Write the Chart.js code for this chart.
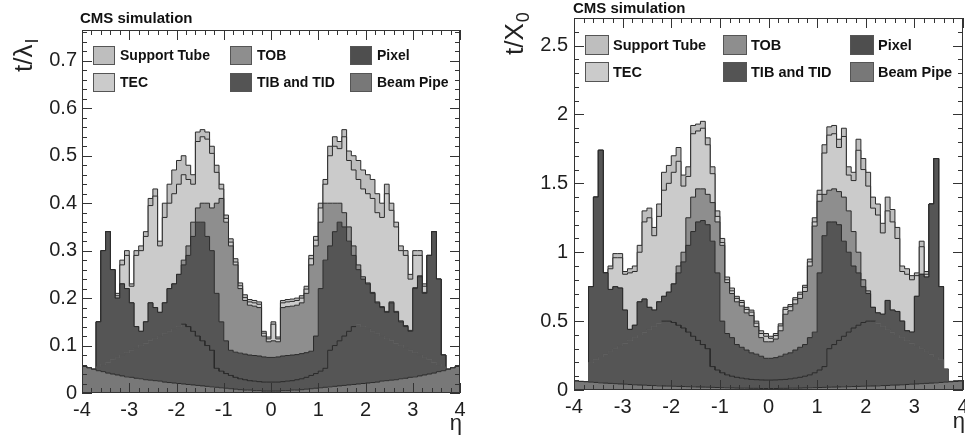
<!DOCTYPE html>
<html>
<head>
<meta charset="utf-8">
<script src="https://cdn.jsdelivr.net/npm/chart.js@4.4.1/dist/chart.umd.min.js"></script>
<style>
  html, body { margin: 0; padding: 0; background: #fff; }
  #wrap { position: relative; width: 965px; height: 442px; overflow: hidden; }
  .panel { position: absolute; top: 0; height: 442px; }
  #left { left: 0; width: 482px; }
  #right { left: 482px; width: 483px; }
</style>
</head>
<body>
<div id="wrap">
  <div class="panel" id="left"><canvas id="lambdaChart"></canvas></div>
  <div class="panel" id="right"><canvas id="x0Chart"></canvas></div>
</div>
<script>
// eta bins: 80 bins of 0.1 from -4 to 4
const etaLow = -4;
const binWidth = 0.1;

// upper edge of each layer of the stack (cumulative), t/lambda_I
const lamBeamPipe = [
  0.056,0.053,0.050,0.047,0.045,0.042,0.040,0.038,0.036,0.034,
  0.033,0.031,0.030,0.028,0.027,0.026,0.025,0.023,0.022,0.021,
  0.020,0.019,0.018,0.017,0.016,0.015,0.014,0.013,0.012,0.011,
  0.010,0.009,0.008,0.007,0.006,0.006,0.005,0.005,0.004,0.004,
  0.004,0.004,0.005,0.005,0.006,0.006,0.007,0.008,0.009,0.010,
  0.011,0.012,0.013,0.014,0.015,0.016,0.017,0.018,0.019,0.020,
  0.021,0.022,0.023,0.025,0.026,0.027,0.028,0.030,0.031,0.033,
  0.034,0.036,0.038,0.040,0.042,0.045,0.047,0.050,0.053,0.056];
const lamPixel = [
  0.056,0.053,0.050,0.055,0.060,0.065,0.070,0.075,0.080,0.085,
  0.090,0.095,0.100,0.105,0.110,0.115,0.120,0.125,0.130,0.135,
  0.140,0.145,0.140,0.130,0.120,0.110,0.100,0.090,0.052,0.046,
  0.041,0.037,0.033,0.030,0.028,0.026,0.025,0.024,0.023,0.023,
  0.023,0.023,0.024,0.025,0.026,0.028,0.030,0.033,0.037,0.041,
  0.046,0.052,0.090,0.100,0.110,0.120,0.130,0.140,0.145,0.140,
  0.135,0.130,0.125,0.120,0.115,0.110,0.105,0.100,0.095,0.090,
  0.085,0.080,0.075,0.070,0.065,0.060,0.055,0.050,0.053,0.056];
const lamTIB = [
  0.056,0.053,0.050,0.15,0.30,0.34,0.26,0.20,0.23,0.22,
  0.19,0.14,0.13,0.15,0.19,0.18,0.17,0.19,0.22,0.23,
  0.25,0.27,0.29,0.33,0.36,0.36,0.33,0.30,0.21,0.15,
  0.11,0.09,0.086,0.084,0.082,0.080,0.079,0.078,0.076,0.075,
  0.075,0.076,0.078,0.079,0.080,0.081,0.083,0.085,0.088,0.12,
  0.22,0.28,0.31,0.34,0.36,0.35,0.32,0.29,0.26,0.24,
  0.23,0.21,0.19,0.18,0.17,0.19,0.17,0.15,0.14,0.13,
  0.22,0.245,0.21,0.29,0.34,0.24,0.08,0.050,0.053,0.056];
const lamTOB = [
  0.056,0.053,0.050,0.15,0.30,0.34,0.26,0.20,0.23,0.22,
  0.19,0.14,0.13,0.15,0.19,0.18,0.17,0.19,0.22,0.23,
  0.25,0.28,0.31,0.36,0.39,0.40,0.40,0.39,0.40,0.41,
  0.36,0.31,0.27,0.22,0.195,0.185,0.183,0.18,0.12,0.108,
  0.11,0.108,0.18,0.182,0.183,0.185,0.19,0.21,0.27,0.31,
  0.36,0.40,0.40,0.40,0.40,0.38,0.35,0.31,0.27,0.245,
  0.232,0.212,0.192,0.182,0.172,0.192,0.172,0.152,0.142,0.132,
  0.222,0.247,0.212,0.29,0.34,0.24,0.08,0.050,0.053,0.056];
const lamTEC = [
  0.056,0.053,0.050,0.15,0.30,0.34,0.26,0.205,0.27,0.29,
  0.225,0.29,0.30,0.33,0.395,0.415,0.31,0.37,0.40,0.42,
  0.44,0.46,0.45,0.44,0.53,0.54,0.535,0.505,0.465,0.43,
  0.368,0.318,0.276,0.226,0.201,0.192,0.19,0.187,0.126,0.114,
  0.145,0.114,0.19,0.192,0.193,0.195,0.20,0.219,0.283,0.322,
  0.39,0.44,0.50,0.52,0.515,0.54,0.49,0.47,0.45,0.43,
  0.42,0.41,0.38,0.37,0.42,0.385,0.35,0.30,0.29,0.24,
  0.29,0.29,0.225,0.29,0.34,0.24,0.08,0.050,0.053,0.056];
const lamSupportTube = [
  0.056,0.053,0.050,0.15,0.30,0.34,0.26,0.21,0.28,0.30,
  0.23,0.30,0.31,0.34,0.41,0.43,0.32,0.40,0.44,0.47,
  0.49,0.50,0.48,0.46,0.55,0.555,0.55,0.52,0.48,0.44,
  0.375,0.325,0.283,0.232,0.207,0.197,0.195,0.192,0.13,0.118,
  0.15,0.118,0.195,0.197,0.198,0.20,0.205,0.225,0.29,0.33,
  0.40,0.45,0.52,0.54,0.53,0.555,0.51,0.50,0.49,0.47,
  0.46,0.45,0.42,0.40,0.44,0.40,0.36,0.31,0.30,0.25,
  0.30,0.30,0.23,0.29,0.34,0.24,0.08,0.050,0.053,0.056];

// upper edge of each layer of the stack (cumulative), t/X0
const radBeamPipe = [
  0.065,0.062,0.060,0.057,0.055,0.052,0.050,0.048,0.046,0.044,
  0.042,0.040,0.038,0.036,0.035,0.033,0.032,0.030,0.029,0.028,
  0.027,0.026,0.025,0.024,0.023,0.022,0.021,0.020,0.019,0.018,
  0.017,0.016,0.015,0.014,0.013,0.013,0.012,0.012,0.011,0.011,
  0.011,0.011,0.012,0.012,0.013,0.013,0.014,0.015,0.016,0.017,
  0.018,0.019,0.020,0.021,0.022,0.023,0.024,0.025,0.026,0.027,
  0.028,0.029,0.030,0.032,0.033,0.035,0.036,0.038,0.040,0.042,
  0.044,0.046,0.048,0.050,0.052,0.055,0.057,0.060,0.062,0.065];
const radPixel = [
  0.065,0.062,0.060,0.20,0.22,0.24,0.26,0.28,0.30,0.32,
  0.34,0.36,0.38,0.40,0.42,0.44,0.46,0.48,0.50,0.50,
  0.49,0.47,0.45,0.42,0.39,0.36,0.33,0.30,0.17,0.145,
  0.125,0.11,0.10,0.092,0.086,0.081,0.077,0.075,0.073,0.072,
  0.072,0.073,0.075,0.077,0.081,0.086,0.092,0.10,0.11,0.125,
  0.145,0.17,0.30,0.33,0.36,0.39,0.42,0.45,0.47,0.49,
  0.50,0.50,0.48,0.46,0.44,0.42,0.40,0.38,0.36,0.34,
  0.32,0.30,0.28,0.26,0.24,0.22,0.15,0.062,0.064,0.066];
const radTIB = [
  0.065,0.062,0.060,0.75,1.40,1.74,0.85,0.73,0.75,0.74,
  0.58,0.44,0.47,0.64,0.66,0.60,0.58,0.64,0.68,0.71,
  0.77,0.85,0.93,1.05,1.15,1.22,1.23,1.20,1.08,0.85,
  0.50,0.41,0.38,0.33,0.31,0.29,0.27,0.26,0.245,0.23,
  0.23,0.235,0.245,0.26,0.27,0.29,0.31,0.33,0.38,0.42,
  0.85,1.12,1.22,1.22,1.20,1.08,1.00,0.90,0.85,0.75,
  0.70,0.60,0.56,0.55,0.65,0.58,0.57,0.50,0.43,0.42,
  0.68,0.84,0.82,1.35,1.68,0.75,0.15,0.062,0.064,0.066];
const radTOB = [
  0.065,0.062,0.060,0.75,1.40,1.74,0.85,0.73,0.75,0.74,
  0.58,0.44,0.47,0.64,0.66,0.60,0.58,0.64,0.68,0.71,
  0.77,0.90,1.00,1.25,1.40,1.46,1.46,1.42,1.36,1.22,
  1.05,0.78,0.70,0.64,0.61,0.56,0.54,0.46,0.38,0.35,
  0.35,0.37,0.43,0.55,0.575,0.625,0.665,0.715,0.90,1.19,
  1.37,1.42,1.45,1.46,1.44,1.40,1.30,1.15,1.00,0.80,
  0.72,0.60,0.56,0.55,0.65,0.58,0.57,0.50,0.43,0.42,
  0.68,0.84,0.82,1.35,1.68,0.75,0.15,0.062,0.064,0.066];
const radTEC = [
  0.065,0.062,0.060,0.75,1.40,1.74,0.85,0.88,0.96,0.96,
  0.84,0.85,0.86,1.00,1.22,1.25,1.12,1.26,1.45,1.50,
  1.58,1.66,1.48,1.55,1.86,1.88,1.90,1.78,1.57,1.26,
  1.07,0.80,0.72,0.665,0.635,0.585,0.565,0.485,0.41,0.39,
  0.375,0.395,0.465,0.585,0.605,0.655,0.695,0.745,0.93,1.22,
  1.42,1.72,1.85,1.86,1.76,1.84,1.56,1.52,1.74,1.60,
  1.48,1.32,1.27,1.14,1.30,1.22,1.10,0.86,0.84,0.80,
  0.83,1.04,0.84,1.35,1.68,0.75,0.15,0.062,0.064,0.066];
const radSupportTube = [
  0.065,0.062,0.060,0.75,1.40,1.74,0.85,0.90,0.99,0.99,
  0.86,0.88,0.90,1.05,1.30,1.32,1.18,1.35,1.58,1.63,
  1.70,1.76,1.56,1.62,1.92,1.93,1.95,1.83,1.62,1.30,
  1.10,0.82,0.74,0.68,0.65,0.60,0.58,0.50,0.43,0.41,
  0.39,0.41,0.48,0.60,0.62,0.67,0.71,0.76,0.95,1.25,
  1.45,1.78,1.91,1.92,1.82,1.90,1.62,1.58,1.82,1.68,
  1.58,1.40,1.35,1.21,1.40,1.31,1.18,0.90,0.88,0.83,
  0.85,1.08,0.86,1.35,1.68,0.75,0.15,0.062,0.064,0.066];

const layerNames = ['Beam Pipe', 'Pixel', 'TIB and TID', 'TOB', 'TEC', 'Support Tube'];
const layerColors = ['#787878', '#555555', '#555555', '#8e8e8e', '#cbcbcb', '#bebebe'];
const legendColors = { 'Pixel': '#4e4e4e', 'TIB and TID': '#545454' };
const legendOrder = ['Support Tube', 'TOB', 'Pixel', 'TEC', 'TIB and TID', 'Beam Pipe'];

const fam = "'Liberation Sans', Arial, Helvetica, sans-serif";
Chart.defaults.font.family = fam;

function toSteps(vals) {
  const pts = vals.map((v, i) => ({ x: etaLow + i * binWidth, y: v }));
  pts.push({ x: etaLow + vals.length * binWidth, y: vals[vals.length - 1] });
  return pts;
}

// outline of the pixel layer only where it is visible (|eta| small)
function edgePoints(vals, maxAbs) {
  const pts = [];
  vals.forEach((v, i) => {
    const lo = etaLow + i * binWidth;
    if (Math.abs(lo + binWidth / 2) < maxAbs) {
      pts.push({ x: lo, y: v }, { x: lo + binWidth, y: v });
    } else if (pts.length && pts[pts.length - 1].y !== null) {
      pts.push({ x: lo, y: null });
    }
  });
  return pts;
}

// ROOT-like frame: inward ticks on four sides, legend boxes, titles
const rootStyle = {
  id: 'rootStyle',
  afterDraw(chart, args, o) {
    const { ctx, chartArea: a, scales: { x, y } } = chart;
    ctx.save();
    ctx.strokeStyle = '#333';
    ctx.lineWidth = 1;
    ctx.beginPath();
    for (let k = 0; k <= 40; k++) {
      const px = Math.round(x.getPixelForValue(-4 + k * 0.2)) + 0.5;
      const len = k % 5 === 0 ? 10 : 5;
      ctx.moveTo(px, a.bottom); ctx.lineTo(px, a.bottom - len);
      ctx.moveTo(px, a.top); ctx.lineTo(px, a.top + len);
    }
    const nY = Math.floor(o.yMax / o.yMinor + 1e-9);
    for (let k = 0; k <= nY; k++) {
      const py = Math.round(y.getPixelForValue(k * o.yMinor)) + 0.5;
      const len = k % 5 === 0 ? 10 : 5;
      ctx.moveTo(a.left, py); ctx.lineTo(a.left + len, py);
      ctx.moveTo(a.right, py); ctx.lineTo(a.right - len, py);
    }
    ctx.stroke();
    ctx.strokeRect(Math.round(a.left) + 0.5, Math.round(a.top) + 0.5, Math.round(a.width) - 1, Math.round(a.height) - 1);

    // legend
    const lg = o.legend;
    ctx.font = `bold ${lg.size}px ${fam}`;
    ctx.textBaseline = 'alphabetic';
    legendOrder.forEach((name, k) => {
      const bx = a.left + lg.cols[k % 3];
      const by = a.top + lg.rows[Math.floor(k / 3)];
      ctx.fillStyle = legendColors[name] || layerColors[layerNames.indexOf(name)];
      ctx.fillRect(bx, by, lg.w, lg.h);
      ctx.strokeStyle = '#555';
      ctx.strokeRect(bx + 0.5, by + 0.5, lg.w - 1, lg.h - 1);
      ctx.fillStyle = '#111';
      ctx.fillText(name, bx + lg.dx, by + lg.dy);
    });

    // "CMS simulation"
    ctx.fillStyle = '#111';
    ctx.font = `bold ${o.title.size}px ${fam}`;
    ctx.fillText('CMS simulation', a.left + o.title.dx, a.top + o.title.dy);

    // y title, rotated, with subscript
    const yt = o.yTitle;
    ctx.save();
    ctx.translate(yt.x, yt.y);
    ctx.rotate(-Math.PI / 2);
    ctx.fillStyle = '#222';
    ctx.font = `${yt.size}px ${fam}`;
    ctx.fillText(yt.main, 0, 0);
    const w = ctx.measureText(yt.main).width;
    ctx.font = `${Math.round(yt.size * 0.7)}px ${fam}`;
    ctx.fillText(yt.sub, w + 1, 6);
    ctx.restore();

    // eta
    ctx.fillStyle = '#222';
    ctx.font = `${o.xTitle.size}px ${fam}`;
    ctx.textAlign = 'right';
    ctx.fillText('η', o.xTitle.x, o.xTitle.y);
    ctx.restore();
  }
};

function makeChart(id, layers, cfg) {
  const datasets = layers.map((vals, i) => ({
    label: layerNames[i],
    data: toSteps(vals),
    stepped: true,
    fill: i === 0 ? 'origin' : '-1',
    backgroundColor: layerColors[i],
    // pixel edge is drawn separately, only where it shows
    borderColor: layerNames[i] === 'Pixel' ? layerColors[2] : '#2b2b2b',
    borderWidth: 1,
    pointRadius: 0,
    tension: 0
  }));
  datasets.push({
    label: 'Pixel edge',
    data: edgePoints(layers[1], cfg.pixelEdgeMax),
    fill: false,
    borderColor: '#2b2b2b',
    borderWidth: 1,
    pointRadius: 0,
    spanGaps: false,
    order: -1
  });

  return new Chart(document.getElementById(id), {
    type: 'line',
    data: { datasets },
    options: {
      responsive: true,
      maintainAspectRatio: false,
      animation: false,
      layout: { padding: cfg.padding },
      plugins: { legend: { display: false }, tooltip: { enabled: false }, rootStyle: cfg },
      scales: {
        x: {
          type: 'linear', min: -4, max: 4,
          grid: { display: false, drawTicks: false },
          border: { display: false },
          ticks: { stepSize: 1, autoSkip: false, maxRotation: 0, padding: cfg.xPad, color: '#1e1e1e', font: { size: cfg.tickSize } },
          afterFit: s => { s.height = 40; s.paddingLeft = 0; s.paddingRight = 0; }
        },
        y: {
          type: 'linear', min: 0, max: cfg.yMax,
          grid: { display: false, drawTicks: false },
          border: { display: false },
          ticks: {
            stepSize: cfg.yStep, includeBounds: false, autoSkip: false, padding: cfg.yPad,
            color: '#1e1e1e', font: { size: cfg.tickSize },
            callback: v => String(+v.toFixed(1))
          },
          afterFit: s => { s.width = 60; s.paddingTop = 0; s.paddingBottom = 0; }
        }
      }
    },
    plugins: [rootStyle]
  });
}

makeChart('lambdaChart',
  [lamBeamPipe, lamPixel, lamTIB, lamTOB, lamTEC, lamSupportTube],
  {
    padding: { left: 22, right: 22, top: 30, bottom: 9 },
    yMax: 0.765, yStep: 0.1, yMinor: 0.02,
    tickSize: 20, xPad: 5, yPad: 5,
    pixelEdgeMax: 1.85,
    title: { dx: -2, dy: -7, size: 15 },
    yTitle: { x: 32, y: 72, main: 't/λ', sub: 'I', size: 26 },
    xTitle: { x: 462, y: 430, size: 22 },
    legend: { cols: [11, 148, 268], rows: [16, 43], w: 22, h: 19, dx: 27, dy: 14, size: 14 }
  });

makeChart('x0Chart',
  [radBeamPipe, radPixel, radTIB, radTOB, radTEC, radSupportTube],
  {
    padding: { left: 32, right: 2, top: 18, bottom: 12 },
    yMax: 2.7, yStep: 0.5, yMinor: 0.1,
    tickSize: 20, xPad: 5, yPad: 6,
    pixelEdgeMax: 2.25,
    title: { dx: -1, dy: -5, size: 15 },
    yTitle: { x: 41, y: 55, main: 't/X', sub: '0', size: 26 },
    xTitle: { x: 483, y: 428, size: 22 },
    legend: { cols: [11, 149, 276], rows: [17, 44], w: 24, h: 20, dx: 28, dy: 15, size: 14.5 }
  });
</script>
</body>
</html>
